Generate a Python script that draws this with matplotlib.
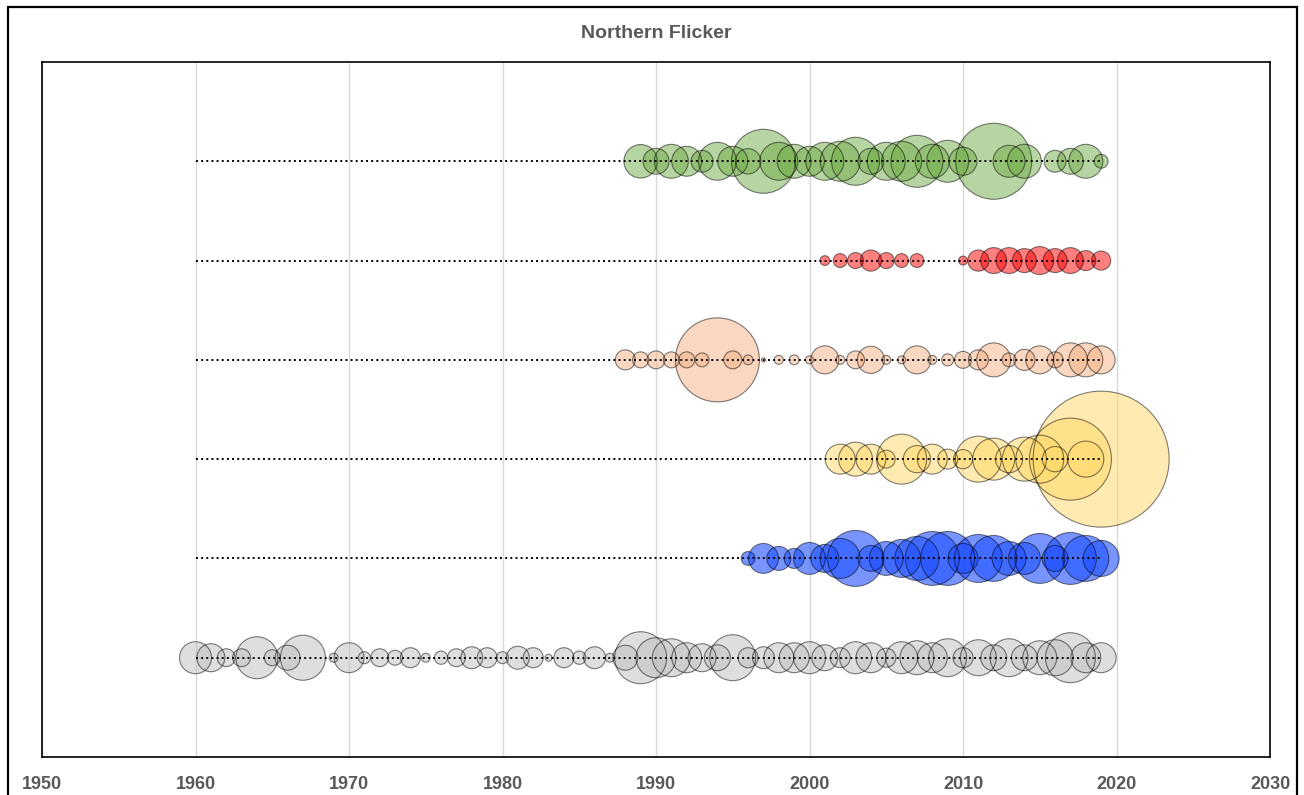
import numpy as np
import matplotlib.pyplot as plt
from matplotlib.patches import Rectangle

# bubble values per row (year, value)
green_years = [1989, 1990, 1991, 1992, 1993, 1994, 1995, 1996, 1997, 1998, 1999, 2000, 2001, 2002,
               2003, 2004, 2005, 2006, 2007, 2008, 2009, 2010, 2012, 2013, 2014, 2016, 2017, 2018, 2019]
green_vals = [70, 42, 72, 56, 30, 90, 56, 40, 256, 90, 72, 56, 90, 100,
              144, 42, 90, 100, 169, 72, 110, 49, 361, 64, 72, 30, 42, 72, 12]

red_years = [2001, 2002, 2003, 2004, 2005, 2006, 2007, 2010, 2011, 2012, 2013, 2014, 2015, 2016,
             2017, 2018, 2019]
red_vals = [6, 12, 16, 28, 16, 12, 12, 5, 28, 42, 42, 36, 49, 36, 42, 25, 23]

peach_years = [1988, 1989, 1990, 1991, 1992, 1993, 1994, 1995, 1996, 1997, 1998, 1999, 2000, 2001,
               2002, 2003, 2004, 2005, 2006, 2007, 2008, 2009, 2010, 2011, 2012, 2013, 2014, 2015,
               2016, 2017, 2018, 2019]
peach_vals = [25, 16, 20, 16, 16, 12, 441, 20, 6, 1, 5, 6, 4, 49,
              5, 20, 46, 5, 4, 49, 5, 9, 18, 25, 72, 12, 28, 49,
              16, 72, 72, 49]

yellow_years = [2002, 2003, 2004, 2005, 2006, 2007, 2008, 2009, 2010, 2011, 2012, 2013, 2014, 2015,
                2016, 2017, 2018, 2019]
yellow_vals = [56, 72, 56, 20, 156, 46, 56, 25, 23, 132, 110, 46, 121, 144, 40, 420, 81, 1156]

blue_years = [1996, 1997, 1998, 1999, 2000, 2001, 2002, 2003, 2004, 2005, 2006, 2007, 2008, 2009,
              2010, 2011, 2012, 2013, 2014, 2015, 2016, 2017, 2018, 2019]
blue_vals = [12, 56, 36, 25, 64, 49, 100, 196, 42, 72, 90, 121, 182, 182,
             56, 144, 132, 72, 64, 156, 42, 169, 132, 81]

gray_years = [1960, 1961, 1962, 1963, 1964, 1965, 1966, 1967, 1969, 1970, 1971, 1972, 1973, 1974,
              1975, 1976, 1977, 1978, 1979, 1980, 1981, 1982, 1983, 1984, 1985, 1986, 1987, 1988,
              1989, 1990, 1991, 1992, 1993, 1994, 1995, 1996, 1997, 1998, 1999, 2000, 2001, 2002,
              2003, 2004, 2005, 2006, 2007, 2008, 2009, 2010, 2011, 2012, 2013, 2014, 2015, 2016,
              2017, 2018, 2019]
gray_vals = [64, 49, 20, 20, 110, 16, 39, 127, 5, 56, 9, 20, 14, 25,
             5, 11, 20, 30, 25, 9, 33, 25, 3, 25, 11, 30, 5, 39,
             169, 100, 90, 56, 49, 42, 132, 25, 30, 56, 56, 64, 42, 25,
             64, 56, 23, 64, 72, 56, 90, 25, 81, 42, 90, 42, 72, 81,
             156, 56, 56]

line_start, line_end = 1960, 2019

rows = [
    (1, gray_years, gray_vals, '#BFBFBF', 0.5),
    (2, blue_years, blue_vals, '#1F4FFF', 0.6),
    (3, yellow_years, yellow_vals, '#FFD966', 0.5),
    (4, peach_years, peach_vals, '#F4B183', 0.5),
    (5, red_years, red_vals, '#FF0000', 0.5),
    (6, green_years, green_vals, '#70AD47', 0.5),
]

fig = plt.figure(figsize=(13.04, 7.95), dpi=100)
ax = fig.add_axes([42 / 1304, 1 - 757 / 795, 1228 / 1304, 695 / 795])

scale = 8.29  # value -> marker area (pt^2)
for y, yrs, vals, col, a in rows:
    ax.scatter(yrs, np.full(len(yrs), y), s=np.array(vals) * scale, color=col, alpha=a,
               edgecolors='none', zorder=2)
    ax.scatter(yrs, np.full(len(yrs), y), s=np.array(vals) * scale, facecolors='none',
               edgecolors=(0, 0, 0, 0.5), linewidths=0.8, zorder=3)
    ax.plot([line_start, line_end], [y, y], color='black', linestyle=':', linewidth=1.4, zorder=4)

ax.set_xlim(1950, 2030)
ax.set_ylim(0, 7)
ax.set_xticks(range(1950, 2031, 10))
ax.set_yticks([])
ax.grid(axis='x', color='#D9D9D9', linewidth=1, zorder=0)
ax.set_axisbelow(True)
ax.tick_params(axis='x', length=0, pad=14, labelsize=13, labelcolor='#595959')
for lab in ax.get_xticklabels():
    lab.set_fontweight('bold')
    lab.set_fontfamily('Liberation Sans')
for sp in ax.spines.values():
    sp.set_color('black')
    sp.set_linewidth(1.2)

fig.text(656 / 1304, 1 - 33 / 795, 'Northern Flicker', ha='center', va='center', fontsize=14,
         fontweight='bold', color='#595959', family='Liberation Sans')

fig.patches.append(Rectangle((8 / 1304, -0.05), 1289 / 1304, 0.05 + (1 - 7 / 795), fill=False,
                             edgecolor='black', linewidth=1.6, transform=fig.transFigure,
                             figure=fig))

fig.savefig('out.png', dpi=100)
